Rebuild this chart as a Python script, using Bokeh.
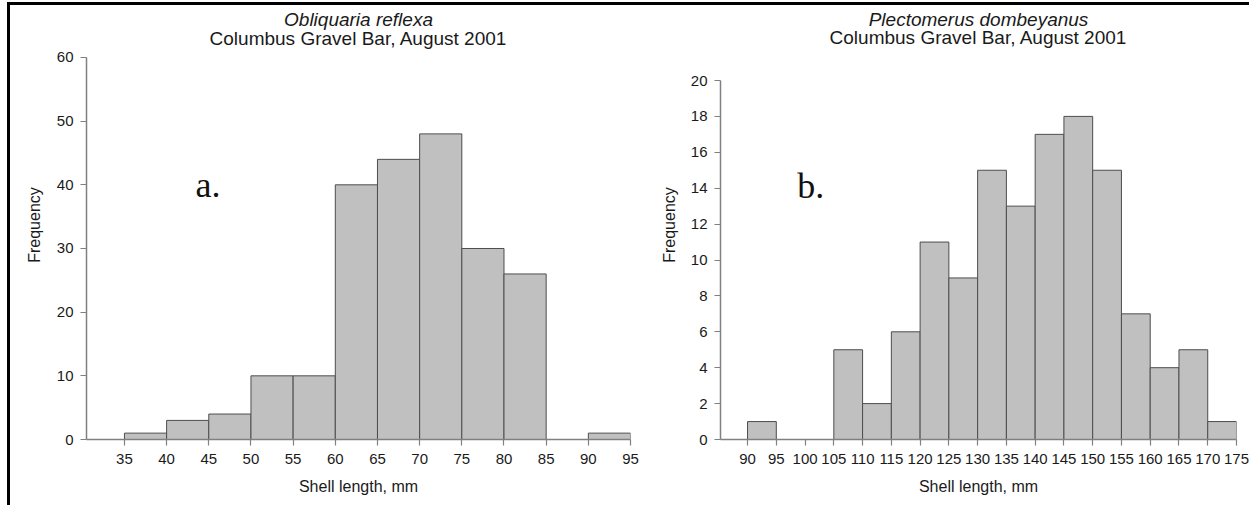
from bokeh.plotting import figure
from bokeh.models import Range1d, FixedTicker, Label
from bokeh.layouts import row
from bokeh.embed import file_html
from bokeh.resources import INLINE

# ---- data ----
bin_width = 5

a_title_species = "Obliquaria reflexa"
a_title_site = "Columbus Gravel Bar, August 2001"
a_bin_left = [35, 40, 45, 50, 55, 60, 65, 70, 75, 80, 85, 90]
a_counts = [1, 3, 4, 10, 10, 40, 44, 48, 30, 26, 0, 1]
a_xticks = [35, 40, 45, 50, 55, 60, 65, 70, 75, 80, 85, 90, 95]
a_yticks = [0, 10, 20, 30, 40, 50, 60]

b_title_species = "Plectomerus dombeyanus"
b_title_site = "Columbus Gravel Bar, August 2001"
b_bin_left = [90, 95, 100, 105, 110, 115, 120, 125, 130, 135, 140, 145, 150, 155, 160, 165, 170]
b_counts = [1, 0, 0, 5, 2, 6, 11, 9, 15, 13, 17, 18, 15, 7, 4, 5, 1]
b_xticks = [90, 95, 100, 105, 110, 115, 120, 125, 130, 135, 140, 145, 150, 155, 160, 165, 170, 175]
b_yticks = [0, 2, 4, 6, 8, 10, 12, 14, 16, 18, 20]

x_label = "Shell length, mm"
y_label = "Frequency"

FONT = "Liberation Sans"
AXIS_COLOR = "#808080"
TEXT_COLOR = "#1a1a1a"


def make_panel(bin_left, counts, xticks, yticks, xr, yr, ybounds, width, height, borders,
               species, site, title_y1, title_y2, letter, letter_x, letter_y,
               ylab_standoff):
    p = figure(width=width, height=height, x_range=Range1d(*xr), y_range=Range1d(*yr),
               output_backend="svg", toolbar_location=None,
               min_border_left=borders[0], min_border_right=borders[1],
               min_border_top=borders[2], min_border_bottom=borders[3])
    lefts = [l for l, c in zip(bin_left, counts) if c > 0]
    tops = [c for c in counts if c > 0]
    rights = [l + bin_width for l in lefts]
    p.quad(left=lefts, right=rights, bottom=0, top=tops,
           fill_color="#c0c0c0", line_color="#4d4d4d", line_width=1)

    p.xgrid.visible = False
    p.ygrid.visible = False
    p.outline_line_color = None
    p.xaxis.ticker = FixedTicker(ticks=xticks)
    p.yaxis.ticker = FixedTicker(ticks=yticks)
    p.yaxis.bounds = ybounds
    for ax in (p.xaxis[0], p.yaxis[0]):
        ax.axis_line_color = AXIS_COLOR
        ax.axis_line_width = 1.5
        ax.major_tick_line_color = AXIS_COLOR
        ax.major_tick_line_width = 1.2
        ax.major_tick_out = 6
        ax.major_tick_in = 0
        ax.minor_tick_line_color = None
        ax.major_label_text_font = FONT
        ax.major_label_text_font_size = "15px"
        ax.major_label_text_color = TEXT_COLOR
        ax.axis_label_text_font = FONT
        ax.axis_label_text_font_style = "normal"
        ax.axis_label_text_font_size = "16px"
        ax.axis_label_text_color = TEXT_COLOR
    p.xaxis.major_label_standoff = 8
    p.yaxis.major_label_standoff = 7
    p.xaxis.axis_label = x_label
    p.xaxis.axis_label_standoff = 11
    p.yaxis.axis_label = y_label
    p.yaxis.axis_label_standoff = ylab_standoff

    xc = (xr[0] + xr[1]) / 2
    p.add_layout(Label(x=xc, y=title_y1, text=species, text_align="center",
                       text_baseline="middle", text_font=FONT,
                       text_font_style="italic", text_font_size="19px",
                       text_color=TEXT_COLOR))
    p.add_layout(Label(x=xc, y=title_y2, text=site, text_align="center",
                       text_baseline="middle", text_font=FONT,
                       text_font_size="19px", text_color=TEXT_COLOR))
    p.add_layout(Label(x=letter_x, y=letter_y, text=letter, text_align="center",
                       text_baseline="middle", text_font="Liberation Serif",
                       text_font_size="36px", text_color="#111111"))
    return p


p1 = make_panel(a_bin_left, a_counts, a_xticks, a_yticks, (30.5, 95), (0, 67.38), (0, 60),
                630, 500, (76, 10, 5, 66),
                a_title_species, a_title_site, 65.9, 63.0,
                "a.", 44.9, 39.9, 11)

p2 = make_panel(b_bin_left, b_counts, b_xticks, b_yticks, (85.3, 175), (0, 23.9), (0, 20),
                609, 500, (80, 13, 5, 66),
                b_title_species, b_title_site, 23.38, 22.37,
                "b.", 101.0, 14.15, 10)

layout = row(p1, p2, styles={"border-top": "3px solid black",
                             "border-left": "3px solid black",
                             "margin-left": "7px", "margin-top": "2px"})

open("out.html", "w").write(file_html(layout, INLINE))
